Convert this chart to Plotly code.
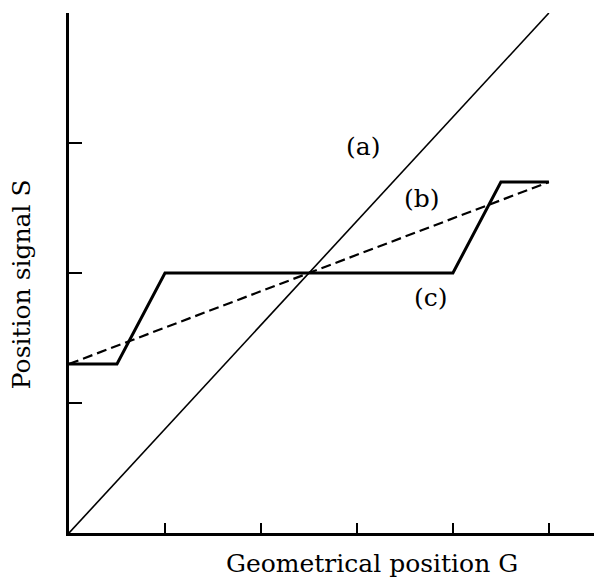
import plotly.graph_objects as go

# Geometrical position G (axis units) and position signal S for each curve
g_a = [0.0, 5.0]
s_a = [0.0, 4.0]

g_b = [0.0, 5.0]
s_b = [1.3, 2.7]

g_c = [0.0, 0.5, 1.0, 4.0, 4.5, 5.0]
s_c = [1.3, 1.3, 2.0, 2.0, 2.7, 2.7]

x_ticks = [1, 2, 3, 4, 5]
y_ticks = [1, 2, 3, 4]

curve_labels = ["(a)", "(b)", "(c)"]
label_pos = [(3.06, 2.97), (3.68, 2.57), (3.77, 1.81)]

FONT = "DejaVu Serif"

fig = go.Figure()
fig.add_trace(go.Scatter(x=g_a, y=s_a, mode="lines",
                         line=dict(color="black", width=1.6), cliponaxis=False))
fig.add_trace(go.Scatter(x=g_b, y=s_b, mode="lines",
                         line=dict(color="black", width=2.2, dash="10px,5px"), cliponaxis=False))
fig.add_trace(go.Scatter(x=g_c, y=s_c, mode="lines",
                         line=dict(color="black", width=3), cliponaxis=False))

for txt, (gx, sy) in zip(curve_labels, label_pos):
    fig.add_annotation(x=gx, y=sy, text=txt, showarrow=False,
                       xanchor="center", yanchor="middle",
                       font=dict(family=FONT, size=25, color="black"))

# axis titles placed in paper coordinates
fig.add_annotation(x=0.577, y=-0.058, xref="paper", yref="paper",
                   xanchor="center", yanchor="middle",
                   text="Geometrical position G", showarrow=False,
                   font=dict(family=FONT, size=25, color="black"))
fig.add_annotation(x=-0.089, y=0.479, xref="paper", yref="paper",
                   xanchor="center", yanchor="middle",
                   text="Position signal S", showarrow=False, textangle=-90,
                   font=dict(family=FONT, size=25, color="black"))

fig.update_layout(
    width=594, height=579,
    margin=dict(l=69, r=0, t=13, b=46),
    plot_bgcolor="white", paper_bgcolor="white",
    showlegend=False,
)
fig.update_xaxes(range=[0, 5.47], showgrid=False, zeroline=False,
                 showline=True, linecolor="black", linewidth=2.5,
                 tickmode="array", tickvals=x_ticks, showticklabels=False,
                 ticks="inside", ticklen=10, tickwidth=2, tickcolor="black")
fig.update_yaxes(range=[0, 4], showgrid=False, zeroline=False,
                 showline=True, linecolor="black", linewidth=2.5,
                 tickmode="array", tickvals=y_ticks, showticklabels=False,
                 ticks="inside", ticklen=13, tickwidth=2, tickcolor="black")

fig.write_html("out.html")
